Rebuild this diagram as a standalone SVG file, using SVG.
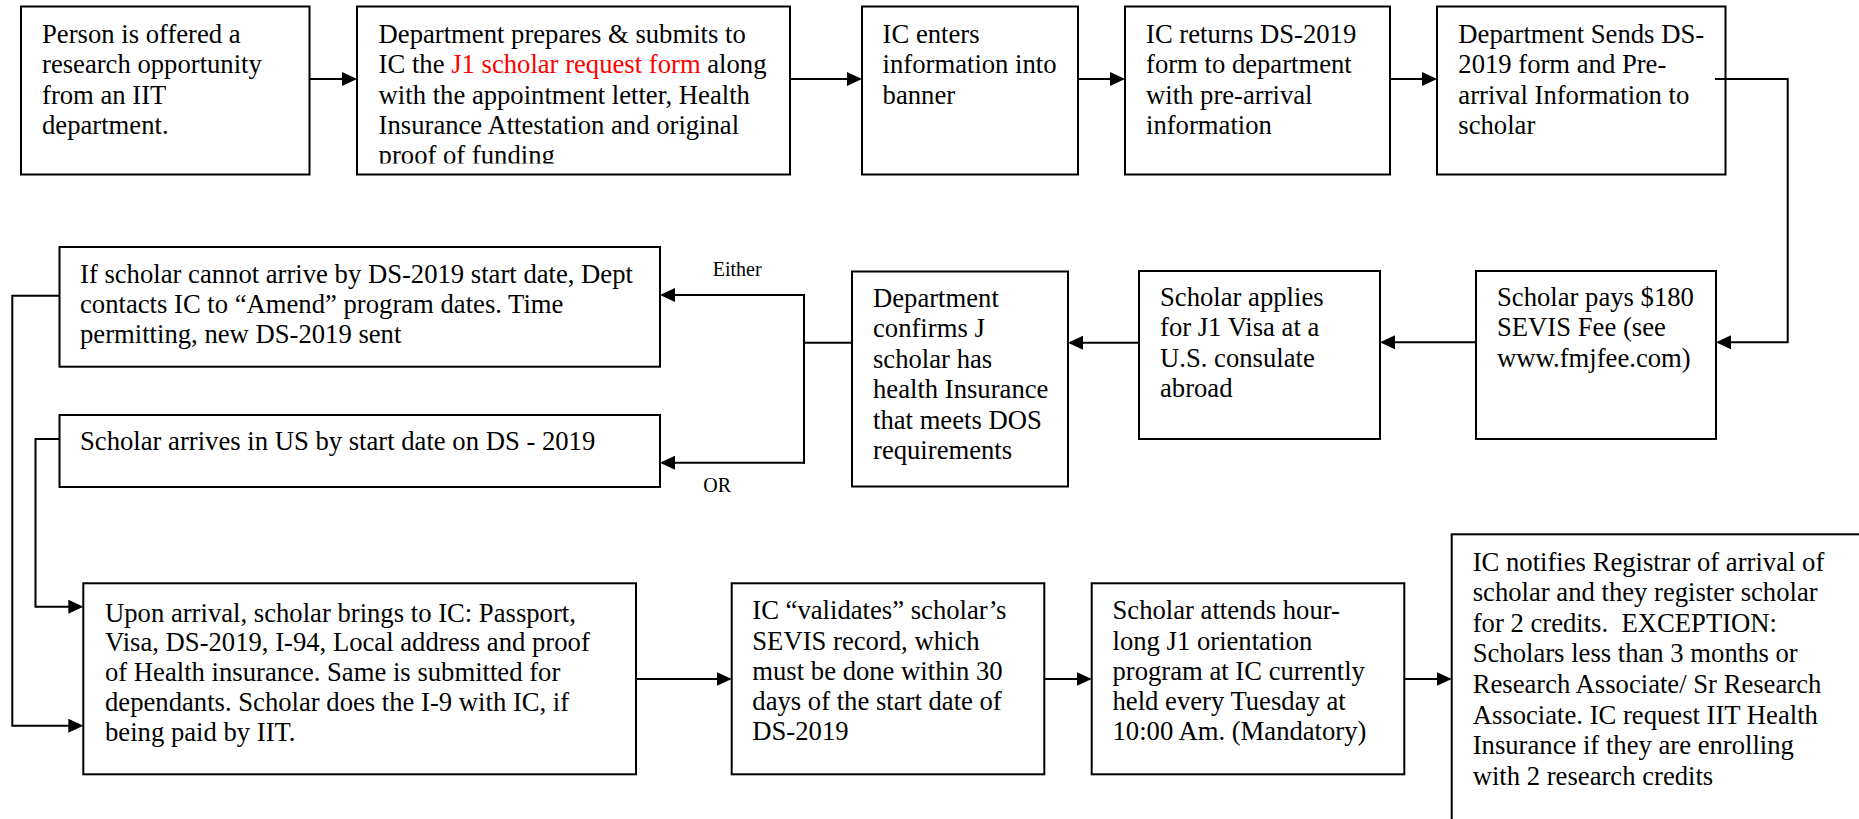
<svg xmlns="http://www.w3.org/2000/svg" width="1859" height="819" viewBox="0 0 1859 819">
<style>
  .box { fill: #fff; stroke: #000; stroke-width: 2; }
  .t { font-family: "Liberation Serif", "Times New Roman", serif; font-size: 26.67px; fill: #000; }
  .lbl { font-family: "Liberation Serif", "Times New Roman", serif; font-size: 20px; fill: #000; }
  .red { fill: #ff0000; }
  .c { fill: none; stroke: #000; stroke-width: 2; }
</style>
<defs>
  <marker id="ah" markerUnits="userSpaceOnUse" markerWidth="16" markerHeight="14" refX="13" refY="7" orient="auto">
    <path d="M0,0 L15,7 L0,14 z" fill="#000"/>
  </marker>
  <clipPath id="clip2"><rect x="357" y="6.5" width="433" height="157"/></clipPath>
</defs>
<rect width="1859" height="819" fill="#fff"/>

<g id="n1">
  <rect class="box" x="21" y="6.5" width="288.5" height="168"/>
  <text class="t"><tspan x="42" y="42.7">Person is offered a</tspan><tspan x="42" y="73.1">research opportunity</tspan><tspan x="42" y="103.5">from an IIT</tspan><tspan x="42" y="133.9">department.</tspan></text>
</g>
<g id="n2">
  <rect class="box" x="357" y="6.5" width="433" height="168"/>
  <text class="t" clip-path="url(#clip2)"><tspan x="378.6" y="42.7">Department prepares &amp; submits to</tspan><tspan x="378.6" y="73.1">IC the <tspan class="red">J1 scholar request form</tspan> along</tspan><tspan x="378.6" y="103.5">with the appointment letter, Health</tspan><tspan x="378.6" y="133.9">Insurance Attestation and original</tspan><tspan x="378.6" y="164.3">proof of funding</tspan></text>
</g>
<g id="n3">
  <rect class="box" x="862" y="6.5" width="216" height="168"/>
  <text class="t"><tspan x="882.6" y="42.7">IC enters</tspan><tspan x="882.6" y="73.1">information into</tspan><tspan x="882.6" y="103.5">banner</tspan></text>
</g>
<g id="n4">
  <rect class="box" x="1125" y="6.5" width="265" height="168"/>
  <text class="t"><tspan x="1146" y="42.7">IC returns DS-2019</tspan><tspan x="1146" y="73.1">form to department</tspan><tspan x="1146" y="103.5">with pre-arrival</tspan><tspan x="1146" y="133.9">information</tspan></text>
</g>
<g id="n5">
  <rect class="box" x="1437" y="6.5" width="288.5" height="168"/>
  <text class="t"><tspan x="1458.3" y="42.7">Department Sends DS-</tspan><tspan x="1458.3" y="73.1">2019 form and Pre-</tspan><tspan x="1458.3" y="103.5">arrival Information to</tspan><tspan x="1458.3" y="133.9">scholar</tspan></text>
</g>
<g id="n6">
  <rect class="box" x="1476" y="271" width="240" height="168"/>
  <text class="t"><tspan x="1497" y="305.5">Scholar pays $180</tspan><tspan x="1497" y="336">SEVIS Fee (see</tspan><tspan x="1497" y="366.5">www.fmjfee.com)</tspan></text>
</g>
<g id="n7">
  <rect class="box" x="1139" y="271" width="241" height="168"/>
  <text class="t"><tspan x="1160" y="305.5">Scholar applies</tspan><tspan x="1160" y="336">for J1 Visa at a</tspan><tspan x="1160" y="366.5">U.S. consulate</tspan><tspan x="1160" y="397">abroad</tspan></text>
</g>
<g id="n8">
  <rect class="box" x="852" y="271.5" width="216" height="215"/>
  <text class="t"><tspan x="873" y="306.5">Department</tspan><tspan x="873" y="337">confirms J</tspan><tspan x="873" y="367.5">scholar has</tspan><tspan x="873" y="398">health Insurance</tspan><tspan x="873" y="428.5">that meets DOS</tspan><tspan x="873" y="459">requirements</tspan></text>
</g>
<g id="n9">
  <rect class="box" x="59.5" y="247" width="600.5" height="119.7"/>
  <text class="t"><tspan x="80" y="283.3">If scholar cannot arrive by DS-2019 start date, Dept</tspan><tspan x="80" y="313">contacts IC to “Amend” program dates. Time</tspan><tspan x="80" y="342.7">permitting, new DS-2019 sent</tspan></text>
</g>
<g id="n10">
  <rect class="box" x="59.5" y="415" width="600.5" height="72"/>
  <text class="t"><tspan x="80" y="450">Scholar arrives in US by start date on DS - 2019</tspan></text>
</g>
<g id="n11">
  <rect class="box" x="83.3" y="583.3" width="552.7" height="191"/>
  <text class="t"><tspan x="105" y="621.5">Upon arrival, scholar brings to IC: Passport,</tspan><tspan x="105" y="651.4">Visa, DS-2019, I-94, Local address and proof</tspan><tspan x="105" y="681.3">of Health insurance. Same is submitted for</tspan><tspan x="105" y="711.2">dependants. Scholar does the I-9 with IC, if</tspan><tspan x="105" y="741.1">being paid by IIT.</tspan></text>
</g>
<g id="n12">
  <rect class="box" x="731.7" y="583.3" width="312.6" height="191"/>
  <text class="t"><tspan x="752.3" y="619.3">IC “validates” scholar’s</tspan><tspan x="752.3" y="649.5">SEVIS record, which</tspan><tspan x="752.3" y="679.7">must be done within 30</tspan><tspan x="752.3" y="709.9">days of the start date of</tspan><tspan x="752.3" y="740.1">DS-2019</tspan></text>
</g>
<g id="n13">
  <rect class="box" x="1091.7" y="583.3" width="312.6" height="191"/>
  <text class="t"><tspan x="1112.5" y="619.3">Scholar attends hour-</tspan><tspan x="1112.5" y="649.5">long J1 orientation</tspan><tspan x="1112.5" y="679.7">program at IC currently</tspan><tspan x="1112.5" y="709.9">held every Tuesday at</tspan><tspan x="1112.5" y="740.1">10:00 Am. (Mandatory)</tspan></text>
</g>
<g id="n14">
  <rect class="box" x="1451.7" y="534.3" width="500" height="400"/>
  <text class="t" xml:space="preserve"><tspan x="1472.7" y="570.5">IC notifies Registrar of arrival of</tspan><tspan x="1472.7" y="601.1">scholar and they register scholar</tspan><tspan x="1472.7" y="631.7">for 2 credits.  EXCEPTION:</tspan><tspan x="1472.7" y="662.3">Scholars less than 3 months or</tspan><tspan x="1472.7" y="692.9">Research Associate/ Sr Research</tspan><tspan x="1472.7" y="723.5">Associate. IC request IIT Health</tspan><tspan x="1472.7" y="754.1">Insurance if they are enrolling</tspan><tspan x="1472.7" y="784.7">with 2 research credits</tspan></text>
</g>

<g id="connectors">
  <path class="c" d="M309.5,79 H355" marker-end="url(#ah)"/>
  <path class="c" d="M790,79 H860" marker-end="url(#ah)"/>
  <path class="c" d="M1078,79 H1123" marker-end="url(#ah)"/>
  <path class="c" d="M1390,79 H1435" marker-end="url(#ah)"/>
  <path class="c" d="M1715,79 H1787.7 V342.3 H1718" marker-end="url(#ah)"/>
  <path class="c" d="M1476,342.3 H1382" marker-end="url(#ah)"/>
  <path class="c" d="M1139,342.7 H1070" marker-end="url(#ah)"/>
  <path class="c" d="M852,342.7 H804"/>
  <path class="c" d="M804,294 V463.7"/>
  <path class="c" d="M805,295 H662" marker-end="url(#ah)"/>
  <path class="c" d="M805,462.7 H662" marker-end="url(#ah)"/>
  <path class="c" d="M59.5,295.7 H12.3 V725.7 H81.3" marker-end="url(#ah)"/>
  <path class="c" d="M59.5,439 H35.5 V606.7 H81.3" marker-end="url(#ah)"/>
  <path class="c" d="M636,679 H729.7" marker-end="url(#ah)"/>
  <path class="c" d="M1044.3,679 H1089.7" marker-end="url(#ah)"/>
  <path class="c" d="M1404.3,679 H1449.7" marker-end="url(#ah)"/>
  <text class="lbl" x="712.7" y="275.7">Either</text>
  <text class="lbl" x="703.3" y="491.7">OR</text>
</g>
</svg>
